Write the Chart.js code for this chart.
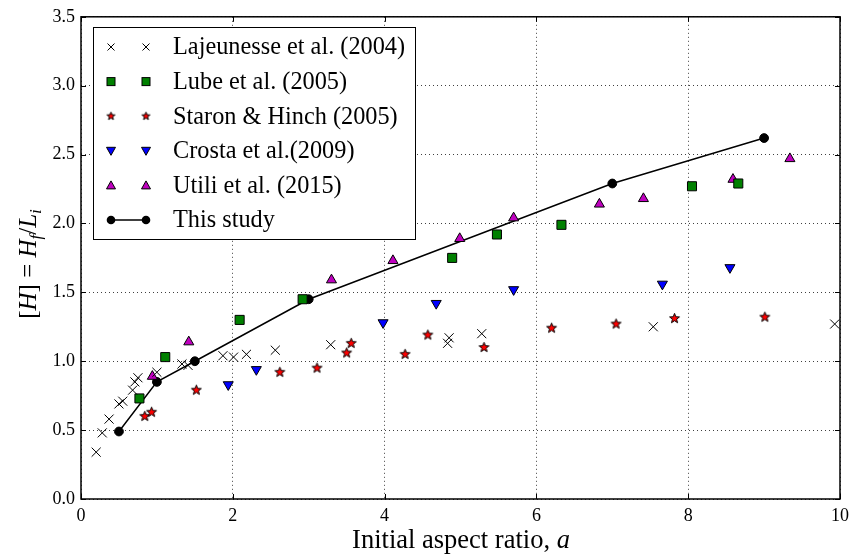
<!DOCTYPE html>
<html>
<head>
<meta charset="utf-8">
<script src="https://cdn.jsdelivr.net/npm/chart.js@4.4.0/dist/chart.umd.min.js"></script>
<style>
  html, body { margin: 0; padding: 0; background: #fff; }
</style>
</head>
<body>
<canvas id="chart" width="855" height="558"></canvas>
<script>
// data
const lajX = [0.20, 0.28, 0.37, 0.50, 0.55, 0.68, 0.71, 0.75, 1.00, 1.33, 1.41, 1.87, 2.01, 2.18, 2.56, 3.29, 4.83, 4.85, 5.28, 7.54, 9.93];
const lajY = [0.34, 0.48, 0.58, 0.69, 0.71, 0.79, 0.85, 0.88, 0.92, 0.98, 0.97, 1.04, 1.03, 1.05, 1.08, 1.12, 1.13, 1.17, 1.20, 1.25, 1.27];

const lubeX = [0.77, 1.11, 2.09, 2.92, 4.89, 5.48, 6.33, 8.05, 8.66];
const lubeY = [0.73, 1.03, 1.30, 1.45, 1.75, 1.92, 1.99, 2.27, 2.29];

const staronX = [0.84, 0.93, 1.52, 2.62, 3.11, 3.50, 3.56, 4.27, 4.57, 5.31, 6.20, 7.05, 7.82, 9.01];
const staronY = [0.60, 0.63, 0.79, 0.92, 0.95, 1.06, 1.13, 1.05, 1.19, 1.10, 1.24, 1.27, 1.31, 1.32];

const crostaX = [1.94, 2.31, 3.98, 4.68, 5.70, 7.66, 8.55];
const crostaY = [0.83, 0.94, 1.28, 1.42, 1.52, 1.56, 1.68];

const utiliX = [0.94, 1.42, 3.30, 4.11, 4.99, 5.70, 6.83, 7.41, 8.59, 9.34];
const utiliY = [0.89, 1.14, 1.59, 1.73, 1.89, 2.04, 2.14, 2.18, 2.32, 2.47];

const studyX = [0.5, 1.0, 1.5, 3.0, 7.0, 9.0];
const studyY = [0.49, 0.85, 1.00, 1.45, 2.29, 2.62];

const seriesNames = ["Lajeunesse et al. (2004)", "Lube et al. (2005)", "Staron & Hinch (2005)",
  "Crosta et al.(2009)", "Utili et al. (2015)", "This study"];

const serif = "'Liberation Serif', 'Times New Roman', serif";

function zip(xs, ys) {
  return xs.map((x, i) => ({ x: x, y: ys[i] }));
}

// red star with black edge, used as a point image
function makeStar(r) {
  const c = document.createElement("canvas");
  const size = Math.ceil(r * 2 + 4);
  c.width = c.height = size;
  const g = c.getContext("2d");
  g.beginPath();
  for (let i = 0; i < 10; i++) {
    const rr = i % 2 ? r * 0.42 : r;
    const a = -Math.PI / 2 + i * Math.PI / 5;
    g.lineTo(size / 2 + rr * Math.cos(a), size / 2 + rr * Math.sin(a));
  }
  g.closePath();
  g.fillStyle = "#ff0000";
  g.fill();
  g.lineWidth = 1;
  g.strokeStyle = "#000";
  g.stroke();
  return c;
}
const starBig = makeStar(5.2);
const starSmall = makeStar(4.2);

const datasets = [
  { label: seriesNames[0], data: zip(lajX, lajY), pointStyle: "crossRot", pointRadius: 6.4,
    borderColor: "#000", pointBorderWidth: 1 },
  { label: seriesNames[1], data: zip(lubeX, lubeY), pointStyle: "rect", pointRadius: 6.4,
    backgroundColor: "#008000", borderColor: "#000", pointBorderWidth: 1 },
  { label: seriesNames[2], data: zip(staronX, staronY), pointStyle: starBig, pointRadius: 5 },
  { label: seriesNames[3], data: zip(crostaX, crostaY), pointStyle: "triangle", rotation: 180,
    pointRadius: 5.8, backgroundColor: "#0000ff", borderColor: "#000", pointBorderWidth: 1 },
  { label: seriesNames[4], data: zip(utiliX, utiliY), pointStyle: "triangle", pointRadius: 5.8,
    backgroundColor: "#bf00bf", borderColor: "#000", pointBorderWidth: 1 },
  { label: seriesNames[5], data: zip(studyX, studyY), showLine: true, pointStyle: "circle",
    pointRadius: 4.4, backgroundColor: "#000", borderColor: "#000", borderWidth: 1.5,
    pointBorderWidth: 1 }
];

// small markers for the legend
function legendMarker(ctx, i, x, y) {
  ctx.save();
  ctx.strokeStyle = "#000";
  ctx.lineWidth = 1;
  if (i === 0) {
    ctx.beginPath();
    ctx.moveTo(x - 3.5, y - 3.5); ctx.lineTo(x + 3.5, y + 3.5);
    ctx.moveTo(x + 3.5, y - 3.5); ctx.lineTo(x - 3.5, y + 3.5);
    ctx.stroke();
  } else if (i === 1) {
    ctx.fillStyle = "#008000";
    ctx.fillRect(x - 4, y - 4, 8, 8);
    ctx.strokeRect(x - 4, y - 4, 8, 8);
  } else if (i === 2) {
    ctx.drawImage(starSmall, x - starSmall.width / 2, y - starSmall.height / 2);
  } else if (i === 3 || i === 4) {
    const d = i === 3 ? 1 : -1;
    ctx.fillStyle = i === 3 ? "#0000ff" : "#bf00bf";
    ctx.beginPath();
    ctx.moveTo(x, y + 4.5 * d);
    ctx.lineTo(x - 4.5, y - 3.5 * d);
    ctx.lineTo(x + 4.5, y - 3.5 * d);
    ctx.closePath();
    ctx.fill(); ctx.stroke();
  } else {
    ctx.fillStyle = "#000";
    ctx.beginPath();
    ctx.arc(x, y, 4.3, 0, Math.PI * 2);
    ctx.fill();
  }
  ctx.restore();
}

const decor = {
  id: "decor",
  afterDatasetsDraw(chart) {
    const ctx = chart.ctx;
    const a = chart.chartArea;
    const xs = chart.scales.x, ys = chart.scales.y;

    // frame
    ctx.save();
    ctx.strokeStyle = "#000";
    ctx.lineWidth = 1.5;
    ctx.strokeRect(a.left, a.top, a.right - a.left, a.bottom - a.top);

    // inward ticks on all sides
    ctx.lineWidth = 1;
    ctx.beginPath();
    xs.ticks.forEach((t) => {
      const px = Math.round(xs.getPixelForValue(t.value)) + 0.5;
      ctx.moveTo(px, a.bottom); ctx.lineTo(px, a.bottom - 5);
      ctx.moveTo(px, a.top); ctx.lineTo(px, a.top + 5);
    });
    ys.ticks.forEach((t) => {
      const py = Math.round(ys.getPixelForValue(t.value)) + 0.5;
      ctx.moveTo(a.left, py); ctx.lineTo(a.left + 5, py);
      ctx.moveTo(a.right, py); ctx.lineTo(a.right - 5, py);
    });
    ctx.stroke();

    // legend
    const lx = 93, ly = 27, lw = 322, lh = 212;
    ctx.fillStyle = "#fff";
    ctx.fillRect(lx, ly, lw, lh);
    ctx.strokeStyle = "#000";
    ctx.lineWidth = 1;
    ctx.strokeRect(lx + 0.5, ly + 0.5, lw, lh);
    ctx.font = "24.3px " + serif;
    ctx.textBaseline = "middle";
    ctx.textAlign = "left";
    seriesNames.forEach((name, i) => {
      const y = 47 + i * 34.6;
      if (i === 5) {
        ctx.beginPath();
        ctx.lineWidth = 1.5;
        ctx.moveTo(111, y); ctx.lineTo(146, y);
        ctx.stroke();
      }
      legendMarker(ctx, i, 111, y);
      legendMarker(ctx, i, 146, y);
      ctx.fillStyle = "#000";
      ctx.fillText(name, 173, y + 1);
    });

    // x axis title
    ctx.textBaseline = "alphabetic";
    const part1 = "Initial aspect ratio, ";
    ctx.font = "26.5px " + serif;
    const w1 = ctx.measureText(part1).width;
    ctx.font = "italic 26.5px " + serif;
    const w2 = ctx.measureText("a").width;
    let sx = 461 - (w1 + w2) / 2;
    ctx.font = "26.5px " + serif;
    ctx.fillText(part1, sx, 548);
    ctx.font = "italic 26.5px " + serif;
    ctx.fillText("a", sx + w1, 548);

    // y axis title: [H] = H_f / L_i
    const pieces = [
      { t: "[", f: "25px", dy: 0 },
      { t: "H", f: "italic 25px", dy: 0 },
      { t: "]", f: "25px", dy: 0 },
      { t: " = ", f: "25px", dy: 0 },
      { t: "H", f: "italic 25px", dy: 0 },
      { t: "f", f: "italic 17px", dy: 5 },
      { t: "/", f: "25px", dy: 0 },
      { t: "L", f: "italic 25px", dy: 0 },
      { t: "i", f: "italic 17px", dy: 5 }
    ];
    let total = 0;
    pieces.forEach((p) => { ctx.font = p.f + " " + serif; p.w = ctx.measureText(p.t).width; total += p.w; });
    ctx.translate(36, 264);
    ctx.rotate(-Math.PI / 2);
    let cx = -total / 2;
    pieces.forEach((p) => {
      ctx.font = p.f + " " + serif;
      ctx.fillText(p.t, cx, p.dy);
      cx += p.w;
    });
    ctx.restore();
  }
};

const config = {
  type: "scatter",
  data: { datasets: datasets },
  options: {
    responsive: false,
    animation: false,
    events: [],
    layout: { padding: { left: 0, right: 13, top: 15, bottom: 0 } },
    plugins: { legend: { display: false }, tooltip: { enabled: false } },
    scales: {
      x: {
        type: "linear",
        min: 0, max: 10,
        afterFit: (scale) => { scale.height = 59; },
        border: { display: false, dash: [1, 3] },
        grid: { color: "rgba(0,0,0,0.75)", lineWidth: 1, drawTicks: false },
        ticks: { stepSize: 2, padding: 6, color: "#000", font: { family: serif, size: 18 } }
      },
      y: {
        type: "linear",
        min: 0, max: 3.5,
        afterFit: (scale) => { scale.width = 81; },
        border: { display: false, dash: [1, 3] },
        grid: { color: "rgba(0,0,0,0.75)", lineWidth: 1, drawTicks: false },
        ticks: {
          stepSize: 0.5, padding: 6, color: "#000", font: { family: serif, size: 18 },
          callback: (v) => v.toFixed(1)
        }
      }
    }
  },
  plugins: [decor]
};

new Chart(document.getElementById("chart").getContext("2d"), config);
</script>
</body>
</html>
